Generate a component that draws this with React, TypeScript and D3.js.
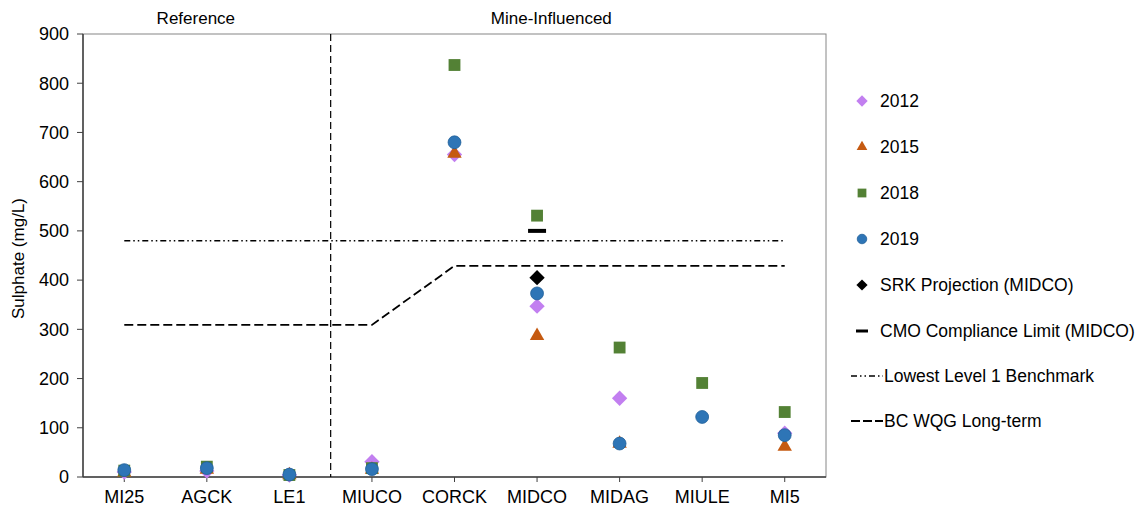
import React from "react";
import * as d3 from "d3";

const sites = ["MI25", "AGCK", "LE1", "MIUCO", "CORCK", "MIDCO", "MIDAG", "MIULE", "MI5"];
const yTicks = [0, 100, 200, 300, 400, 500, 600, 700, 800, 900];

// null = no sample that year
const v2012 = [10, 12, 4, 31, 655, 347, 160, null, 89];
const v2015 = [9, 15, 4, 15, 657, 287, 68, null, 62];
const v2018 = [13, 21, 4, 18, 837, 531, 263, 191, 132];
const v2019 = [14, 18, 5, 16, 680, 373, 68, 122, 85];

const srkSite = "MIDCO";
const srkValue = 405;
const cmoValue = 500;

const benchmarkValues = [480, 480, 480, 480, 480, 480, 480, 480, 480];
const wqgValues = [309, 309, 309, 309, 429, 429, 429, 429, 429];

const series = [
  { name: "2012", values: v2012, symbol: d3.symbolDiamond2, color: "#c27ff0", size: 150 },
  { name: "2015", values: v2015, symbol: d3.symbolTriangle, color: "#c55a11", size: 90 },
  { name: "2018", values: v2018, symbol: d3.symbolSquare, color: "#538135", size: 140 },
  { name: "2019", values: v2019, symbol: d3.symbolCircle, color: "#2e75b6", size: 130 },
];

const W = 1138, H = 510;
const left = 83, right = 826, top = 34, bottom = 477;
const font = "'Liberation Sans', Arial, sans-serif";
const legendFont = 17.5;

export default function App() {
  const x = d3.scalePoint<string>().domain(sites).range([left, right]).padding(0.5);
  const y = d3.scaleLinear().domain([0, 900]).range([bottom, top]);
  const lineGen = d3.line<number>().x((_, i) => x(sites[i])!).y((d) => y(d));
  const divider = (x(sites[2])! + x(sites[3])!) / 2;

  const legendX = 862;
  const legendRows = [101, 147, 193, 239, 285, 331, 376, 421];

  return (
    <svg width={W} height={H} style={{ position: "absolute", left: 0, top: 0, fontFamily: font }}>
      <rect x={0} y={0} width={W} height={H} fill="#fff" />
      {/* plot frame */}
      <rect x={left} y={top} width={right - left} height={bottom - top} fill="none" stroke="#868686" strokeWidth={1} />
      <line x1={left} x2={left} y1={top} y2={bottom} stroke="#404040" strokeWidth={1.5} />
      <line x1={left} x2={right} y1={bottom} y2={bottom} stroke="#404040" strokeWidth={1.5} />

      {yTicks.map((t) => (
        <g key={t}>
          <line x1={left - 6} x2={left} y1={y(t)} y2={y(t)} stroke="#404040" />
          <text x={left - 14} y={y(t)} dy="0.35em" textAnchor="end" fontSize={18} fill="#000">{t}</text>
        </g>
      ))}
      {sites.map((s) => (
        <g key={s}>
          <line x1={x(s)} x2={x(s)} y1={bottom} y2={bottom + 5} stroke="#404040" />
          <text x={x(s)} y={bottom + 26} textAnchor="middle" fontSize={18} fill="#000">{s}</text>
        </g>
      ))}
      <text transform={`translate(24,${(top + bottom) / 2 + 3}) rotate(-90)`} textAnchor="middle" fontSize={17} fill="#000">
        Sulphate (mg/L)
      </text>

      <text x={(left + divider) / 2 - 11} y={24} textAnchor="middle" fontSize={17} fill="#000">Reference</text>
      <text x={(divider + right) / 2 - 27} y={24} textAnchor="middle" fontSize={17} fill="#000">Mine-Influenced</text>

      <line x1={divider} x2={divider} y1={top} y2={bottom} stroke="#000" strokeWidth={1.2} strokeDasharray="7,4" />

      <path d={lineGen(benchmarkValues)!} fill="none" stroke="#000" strokeWidth={1.3} strokeDasharray="6,3,1.5,3,1.5,3" />
      <path d={lineGen(wqgValues)!} fill="none" stroke="#000" strokeWidth={1.8} strokeDasharray="9,4" />

      <line x1={x(srkSite)! - 9} x2={x(srkSite)! + 9} y1={y(cmoValue)} y2={y(cmoValue)} stroke="#000" strokeWidth={4} />

      {series.map((s) => (
        <g key={s.name}>
          {s.values.map((v, i) =>
            v == null ? null : (
              <path
                key={i}
                d={d3.symbol(s.symbol, s.size)()!}
                transform={`translate(${x(sites[i])},${y(v)})`}
                fill={s.color}
                stroke={s.name === "2019" ? "#1f5f99" : "none"}
                strokeWidth={0.8}
              />
            )
          )}
        </g>
      ))}
      <path d={d3.symbol(d3.symbolDiamond2, 150)()!} transform={`translate(${x(srkSite)},${y(srkValue)})`} fill="#000" />

      {/* legend */}
      {series.map((s, i) => (
        <g key={s.name} transform={`translate(0,${legendRows[i]})`}>
          <path d={d3.symbol(s.symbol, s.size * 0.55)()!} transform={`translate(${legendX},0)`} fill={s.color}
            stroke={s.name === "2019" ? "#1f5f99" : "none"} strokeWidth={0.8} />
          <text x={880} y={0} dy="0.35em" fontSize={legendFont} fill="#000">{s.name}</text>
        </g>
      ))}
      <g transform={`translate(0,${legendRows[4]})`}>
        <path d={d3.symbol(d3.symbolDiamond2, 80)()!} transform={`translate(${legendX},0)`} fill="#000" />
        <text x={880} y={0} dy="0.35em" fontSize={legendFont} fill="#000">SRK Projection (MIDCO)</text>
      </g>
      <g transform={`translate(0,${legendRows[5]})`}>
        <line x1={legendX - 6} x2={legendX + 6} y1={0} y2={0} stroke="#000" strokeWidth={3} />
        <text x={880} y={0} dy="0.35em" fontSize={legendFont} fill="#000">CMO Compliance Limit (MIDCO)</text>
      </g>
      <g transform={`translate(0,${legendRows[6]})`}>
        <line x1={851} x2={883} y1={0} y2={0} stroke="#000" strokeWidth={1.3} strokeDasharray="6,3,1.5,3,1.5,3" />
        <text x={884} y={0} dy="0.35em" fontSize={legendFont} fill="#000">Lowest Level 1 Benchmark</text>
      </g>
      <g transform={`translate(0,${legendRows[7]})`}>
        <line x1={851} x2={883} y1={0} y2={0} stroke="#000" strokeWidth={1.8} strokeDasharray="9,3" />
        <text x={884} y={0} dy="0.35em" fontSize={legendFont} fill="#000">BC WQG Long-term</text>
      </g>
    </svg>
  );
}
